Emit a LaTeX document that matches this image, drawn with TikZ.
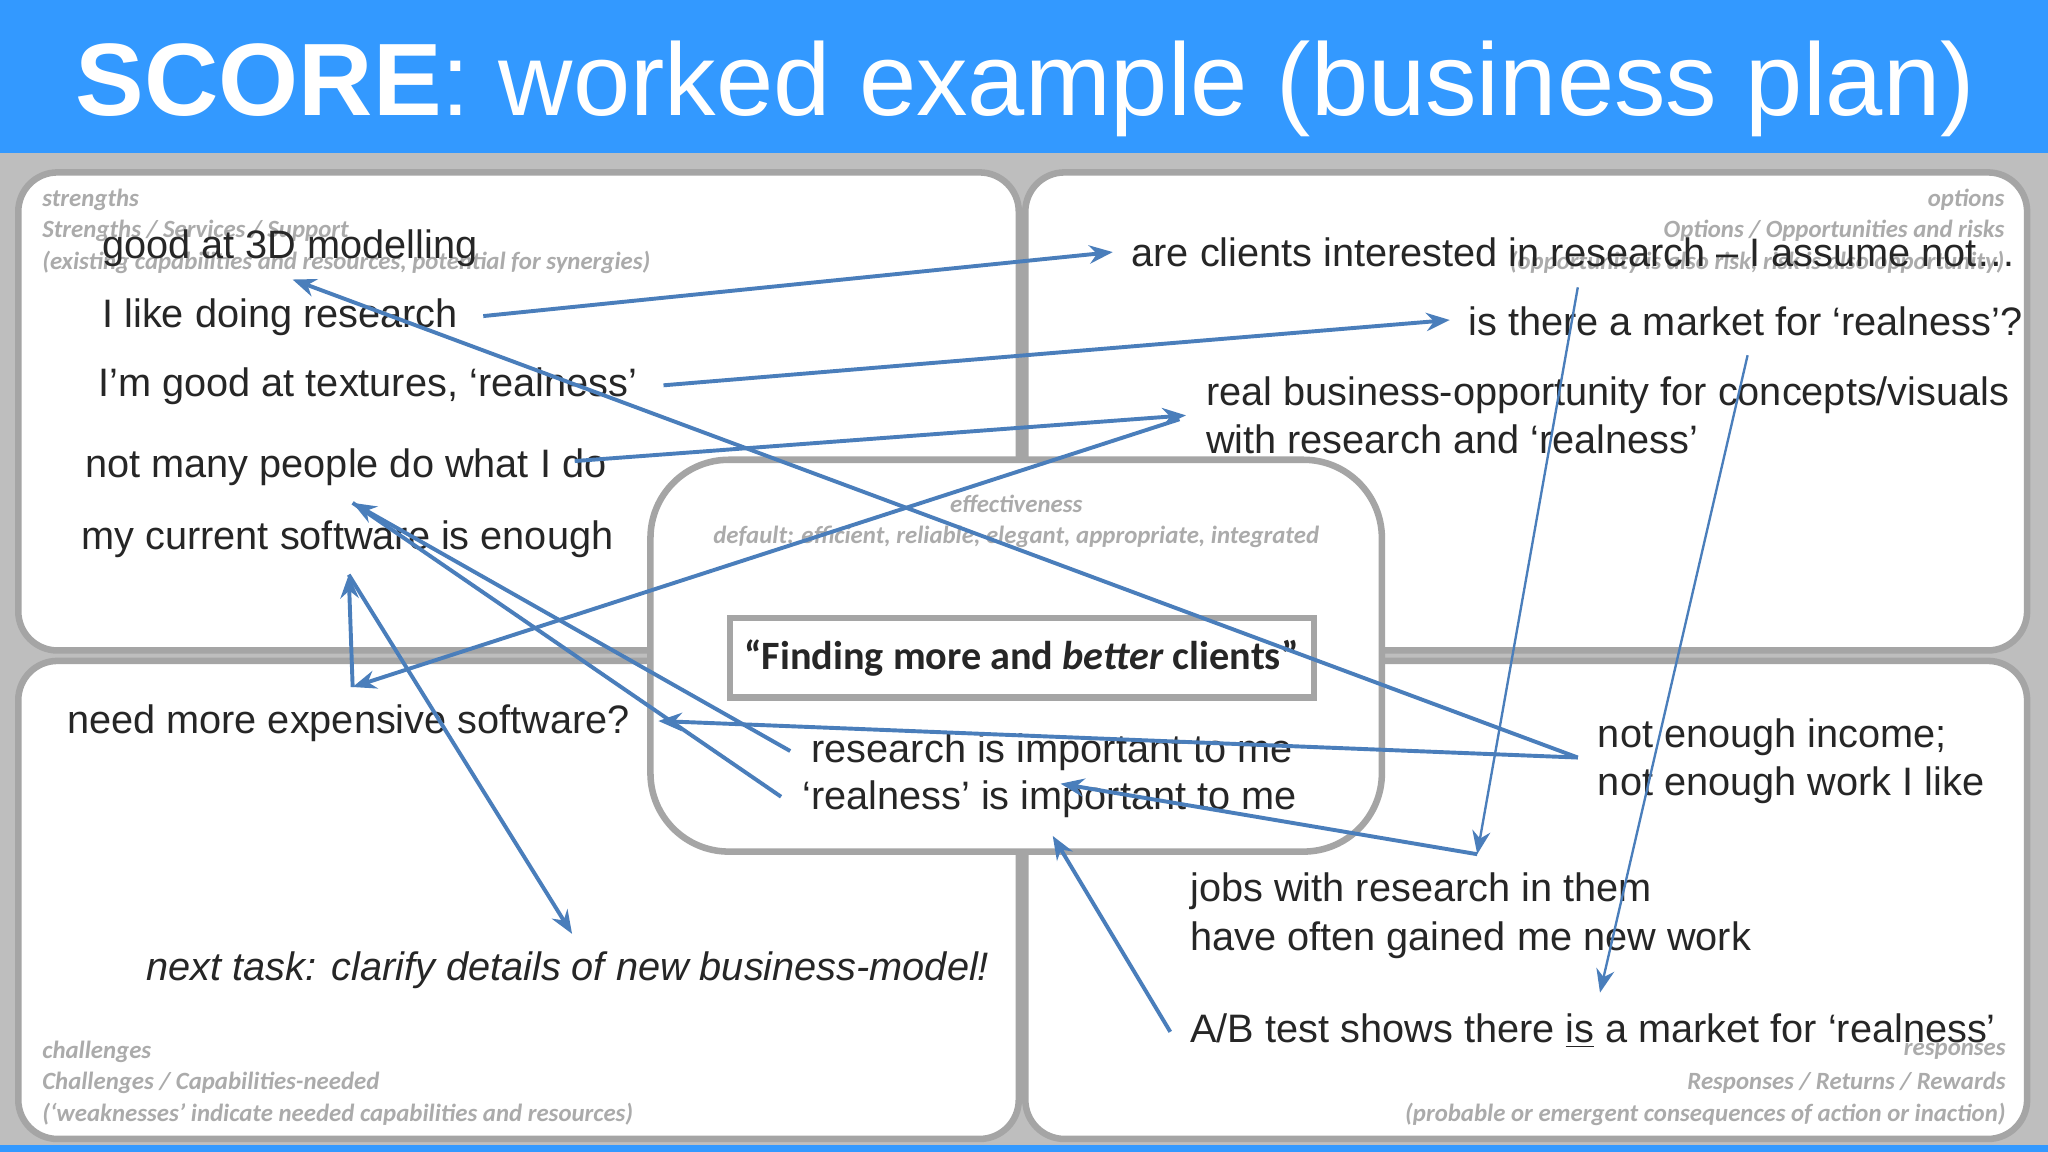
\documentclass[tikz,border=0pt]{standalone}
\usepackage{fontspec}
\setmainfont{Liberation Sans}
\newfontfamily\carlitofam{Carlito}
\usetikzlibrary{arrows.meta}
\definecolor{hdr}{HTML}{3399FF}
\definecolor{bg}{HTML}{BEBEBE}
\definecolor{pbord}{HTML}{A5A5A5}
\definecolor{lbl}{HTML}{ABABAB}
\definecolor{arr}{HTML}{4A7EBB}
\definecolor{txt}{HTML}{262626}
\tikzset{
  panel/.style={draw=pbord,line width=2.5pt,fill=white,rounded corners=15pt},
  mt/.style={anchor=west,inner sep=0pt,font=\fontsize{15.2}{18}\selectfont,text=txt},
  gl/.style={inner sep=0pt,font=\carlitofam\bfseries\itshape\fontsize{9.5}{11}\selectfont,text=lbl},
  ar/.style={draw=arr,line width=1.5pt,-{Stealth[length=9pt,width=7pt]}},
  ln/.style={draw=arr,line width=1.5pt},
  thn/.style={draw=arr,line width=0.9pt,-{Stealth[length=9pt,width=7pt]}}
}
\begin{document}
\begin{tikzpicture}[x=0.5pt,y=-0.5pt]
\useasboundingbox (0,0) rectangle (1568,882);
\fill[bg] (0,117) rectangle (1568,882);
\fill[hdr] (0,0) rectangle (1568,117);
\fill[hdr] (0,877) rectangle (1568,882);
\node[inner sep=0pt,text=white,font=\fontsize{39.4}{44}\selectfont] (title) at (785,68) {\textbf{SCORE}: worked example (business plan)};
% panels
\draw[panel] (14,132) rectangle (780,498);
\draw[panel] (785,132) rectangle (1552,498);
\draw[panel] (14,506) rectangle (780,872);
\draw[panel] (785,506) rectangle (1552,872);
\draw[panel,rounded corners=30pt] (498,352) rectangle (1058,652);
\draw[draw=pbord,line width=2.5pt,fill=white] (559,473) rectangle (1006,534);
% gray labels
\node[gl,anchor=west] at (32,153) {strengths};
\node[gl,anchor=west] at (32,177) {Strengths / Services / Support};
\node[gl,anchor=west] at (32,201) {(existing capabilities and resources, potential for synergies)};
\node[gl,anchor=east] at (1535,153) {options};
\node[gl,anchor=east] at (1535,177) {Options / Opportunities and risks};
\node[gl,anchor=east] at (1535,201) {(opportunity is also risk, risk is also opportunity)};
\node[gl,anchor=west] at (32,805) {challenges};
\node[gl,anchor=west] at (32,829) {Challenges / Capabilities-needed};
\node[gl,anchor=west] at (32,853) {(‘weaknesses’ indicate needed capabilities and resources)};
\node[gl,anchor=east] at (1536,805) {responses};
\node[gl,anchor=east] at (1536,829) {Responses / Returns / Rewards};
\node[gl,anchor=east] at (1536,853) {(probable or emergent consequences of action or inaction)};
\node[gl] at (778,386) {effectiveness};
\node[gl] at (778,411) {default: efficient, reliable, elegant, appropriate, integrated};
\node[inner sep=0pt,font=\carlitofam\bfseries\fontsize{15.4}{18}\selectfont,text=txt] (focus) at (782,504) {“Finding more and \textit{better} clients”};
% main texts
\node[mt] (s1) at (78,190) {good at 3D modelling};
\node[mt] (s2) at (78,243) {I like doing research};
\node[mt] (s3) at (75,296) {I’m good at textures, ‘realness’};
\node[mt] (s4) at (65,358) {not many people do what I do};
\node[mt] (s5) at (62,413) {my current software is enough};
\node[mt] (c1) at (51,554) {need more expensive software?};
\node[mt,font=\fontsize{15.2}{18}\selectfont\itshape] (c2) at (112,743) {next task: clarify details of new business-model!};
\node[mt] (o1) at (866,193) {are clients interested in research – I assume not…};
\node[mt] (o2) at (1124,246) {is there a market for ‘realness’?};
\node[mt,align=left,font=\fontsize{15.2}{18.2}\selectfont] (o3) at (923,318) {real business-opportunity for concepts/visuals\\with research and ‘realness’};
\node[mt] (e1) at (621,576) {research is important to me};
\node[mt] (e2) at (614,612) {‘realness’ is important to me};
\node[mt,align=left,font=\fontsize{15.2}{18.2}\selectfont] (r1) at (1223,583) {not enough income;\\not enough work I like};
\node[mt,align=left,font=\fontsize{15.2}{18.6}\selectfont] (r2) at (911,701) {jobs with research in them\\have often gained me new work};
\node[mt] (r3) at (911,789) {A/B test shows there \underline{is} a market for ‘realness’};
% connector end points
\coordinate (pS2) at (370,242);
\coordinate (pO1) at (852,193);
\coordinate (pS3) at (508,295);
\coordinate (pO2) at (1110,245);
\coordinate (pS4) at (440,353);
\coordinate (pO3) at (908,318);
\coordinate (pO3b) at (903,321);
\coordinate (pC1a) at (270,526);
\coordinate (pS5a) at (267,440);
\coordinate (pS5b) at (270,385);
\coordinate (pC2) at (438,715);
\coordinate (pE1) at (605,575);
\coordinate (pE2) at (598,610);
\coordinate (pR1) at (1208,580);
\coordinate (pS1) at (224,214);
\coordinate (pC1b) at (504,552);
\coordinate (pO1b) at (1208,220);
\coordinate (pR2) at (1131,654);
\coordinate (pE2b) at (812,600);
\coordinate (pO2b) at (1338,272);
\coordinate (pR3) at (1225,760);
\coordinate (pR3b) at (896,790);
\coordinate (pE2c) at (806,640);
% connectors
\draw[ar] (pS2) -- (pO1);
\draw[ar] (pS3) -- (pO2);
\draw[ar] (pS4) -- (pO3);
\draw[ar] (pO3b) -- (pC1a);
\draw[ar] (pC1a) -- (pS5a);
\draw[ar] (pS5a) -- (pC2);
\draw[ar] (pE1) -- (pS5b);
\draw[ln] (pE2) -- (pS5b);
\draw[ar] (pR1) -- (pS1);
\draw[ar] (pR1) -- (pC1b);
\draw[thn] (pO1b) -- (pR2);
\draw[ar] (pR2) -- (pE2b);
\draw[thn] (pO2b) -- (pR3);
\draw[ar] (pR3b) -- (pE2c);
\end{tikzpicture}
\end{document}
